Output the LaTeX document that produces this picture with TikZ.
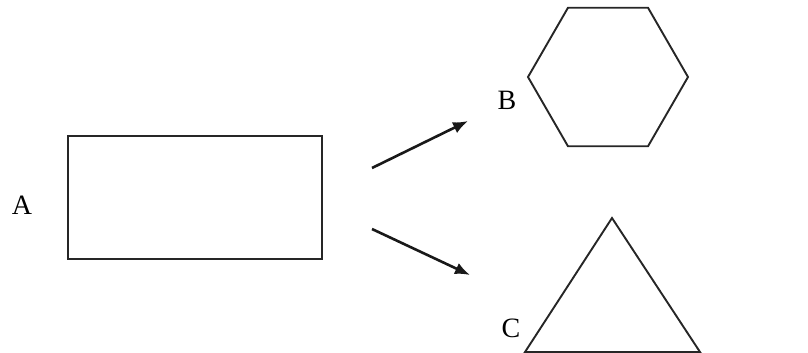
\documentclass[tikz,border=0pt]{standalone}
\usepackage{fontspec}
\setmainfont{Liberation Serif}
\usetikzlibrary{arrows.meta,shapes.geometric}
\tikzset{
  shapeline/.style={draw=black!85, line width=1.9pt},
  conn/.style={draw=black!90, line width=2.6pt, -{Latex[length=15pt,width=12pt]}},
  lbl/.style={font=\fontsize{28}{30}\selectfont, inner sep=0pt}
}
\begin{document}
\begin{tikzpicture}[x=1pt,y=-1pt]
\useasboundingbox (0,0) rectangle (808,353);
\clip (0,0) rectangle (808,353);
% rectangle A
\node[shapeline, rectangle, minimum width=254pt, minimum height=123pt, inner sep=0pt, anchor=north west] (rectA) at (67,135) {};
\node[lbl] (labA) at (22,205) {A};
% hexagon B
\node[shapeline, regular polygon, regular polygon sides=6, minimum size=160pt, inner sep=0pt, outer sep=0pt] (hexB) at (608,77) {};
\node[lbl] (labB) at (507,100) {B};
% triangle C
\coordinate (triTop) at (612,218);
\coordinate (triL) at (525,352);
\coordinate (triR) at (700,352);
\draw[shapeline] (triTop) -- (triL) -- (triR) -- cycle;
\node[lbl] (labC) at (511,328) {C};
% arrows
\coordinate (a1s) at (372,168);
\coordinate (a1e) at (468,121);
\coordinate (a2s) at (372,229);
\coordinate (a2e) at (470,275);
\draw[conn] (a1s) -- (a1e);
\draw[conn] (a2s) -- (a2e);
\end{tikzpicture}
\end{document}
